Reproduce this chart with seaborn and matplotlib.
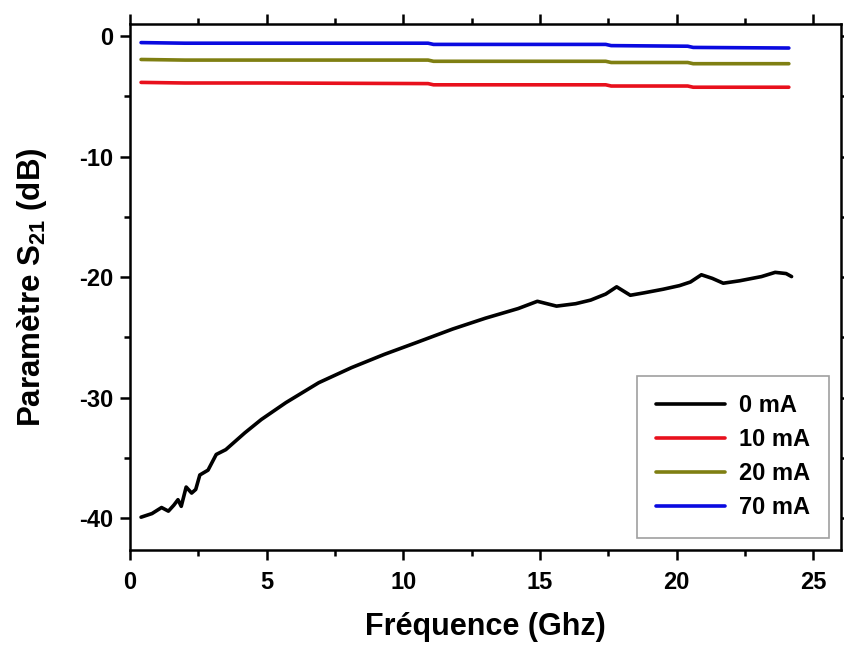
import numpy as np
import pandas as pd
import matplotlib
matplotlib.use("Agg")
import matplotlib.pyplot as plt
import seaborn as sns
from matplotlib.ticker import MultipleLocator

# ---- data ----
freq_0mA = [0.4, 0.8, 1.15, 1.4, 1.6, 1.75, 1.87, 2.05, 2.25, 2.4, 2.55, 2.85, 3.15,
            3.5, 4.2, 4.8, 5.7, 6.9, 8.1, 9.3, 10.5, 11.8, 13.0, 14.2, 14.9, 15.6,
            16.3, 16.85, 17.4, 17.8, 18.3, 18.8, 19.5, 20.1, 20.5, 20.9, 21.3, 21.7,
            22.3, 23.1, 23.6, 24.0, 24.2]
s21_0mA = [-39.9, -39.6, -39.1, -39.4, -38.9, -38.45, -39.0, -37.4, -37.9, -37.6,
           -36.4, -36.0, -34.7, -34.3, -32.9, -31.8, -30.4, -28.75, -27.5, -26.4,
           -25.4, -24.3, -23.4, -22.6, -22.0, -22.4, -22.2, -21.9, -21.4, -20.8,
           -21.5, -21.3, -21.0, -20.7, -20.4, -19.8, -20.1, -20.5, -20.3, -19.95,
           -19.6, -19.7, -19.95]

freq_flat = [0.4, 2.0, 5.0, 10.9, 11.1, 15.0, 17.4, 17.6, 20.4, 20.6, 24.1]
s21_10mA = [-3.85, -3.9, -3.9, -3.95, -4.05, -4.05, -4.05, -4.15, -4.15, -4.25, -4.25]
s21_20mA = [-1.95, -2.0, -2.0, -2.0, -2.1, -2.1, -2.1, -2.2, -2.2, -2.3, -2.3]
s21_70mA = [-0.55, -0.6, -0.6, -0.6, -0.7, -0.7, -0.7, -0.8, -0.85, -0.95, -1.0]

labels = ["0 mA", "10 mA", "20 mA", "70 mA"]
colors = ["#000000", "#e8101c", "#7f7f12", "#0a0ae0"]

x_ticks = [0, 5, 10, 15, 20, 25]
y_ticks = [0, -10, -20, -30, -40]

frames = [
    pd.DataFrame({"f": freq_0mA, "s": s21_0mA, "I": labels[0]}),
    pd.DataFrame({"f": freq_flat, "s": s21_10mA, "I": labels[1]}),
    pd.DataFrame({"f": freq_flat, "s": s21_20mA, "I": labels[2]}),
    pd.DataFrame({"f": freq_flat, "s": s21_70mA, "I": labels[3]}),
]
df = pd.concat(frames, ignore_index=True)

sns.set_theme(style="ticks")
plt.rcParams["font.family"] = ["Liberation Sans", "DejaVu Sans"]
plt.rcParams["font.weight"] = "bold"
plt.rcParams["axes.unicode_minus"] = False
plt.rcParams["text.color"] = "black"
plt.rcParams["axes.labelcolor"] = "black"
plt.rcParams["xtick.color"] = "black"
plt.rcParams["ytick.color"] = "black"
plt.rcParams["mathtext.fontset"] = "custom"
plt.rcParams["mathtext.rm"] = "Liberation Sans:bold"
plt.rcParams["mathtext.bf"] = "Liberation Sans:bold"
plt.rcParams["mathtext.default"] = "bf"

fig = plt.figure(figsize=(8.45, 6.46), dpi=100)
ax = fig.add_axes([0.154, 0.149, 0.841, 0.814])

sns.lineplot(data=df, x="f", y="s", hue="I", palette=dict(zip(labels, colors)),
             hue_order=labels, ax=ax, linewidth=2.6, sort=False, estimator=None)

ax.set_xlim(0, 26)
ax.set_ylim(-42.6, 1.0)
ax.set_xticks(x_ticks)
ax.set_yticks(y_ticks)
ax.xaxis.set_minor_locator(MultipleLocator(2.5))
ax.yaxis.set_minor_locator(MultipleLocator(5))
ax.tick_params(which="both", direction="out", top=True, right=True,
               labeltop=False, labelright=False, width=1.8, colors="black")
ax.tick_params(which="major", length=7, labelsize=17)
ax.tick_params(axis="x", which="major", pad=8)
ax.tick_params(axis="y", which="major", pad=5)
ax.tick_params(which="minor", length=4.5)
for lab in ax.get_xticklabels() + ax.get_yticklabels():
    lab.set_fontweight("bold")
for sp in ax.spines.values():
    sp.set_linewidth(1.8)
    sp.set_color("black")

ax.set_xlabel("Fréquence (Ghz)", fontsize=22, fontweight="bold", labelpad=13)
ax.set_ylabel(r"Paramètre S$_{21}$ (dB)", fontsize=22.5, fontweight="bold", labelpad=22)

leg = ax.legend(loc="lower right", fontsize=17, handlelength=2.9, frameon=True,
                fancybox=False, edgecolor="#888888", borderpad=0.8,
                handletextpad=0.6, labelspacing=0.46,
                bbox_to_anchor=(1.0, 0.0))
leg.get_frame().set_linewidth(1.2)
for t in leg.get_texts():
    t.set_fontweight("bold")
for h in leg.get_lines():
    h.set_linewidth(2.6)

fig.savefig("out.png", dpi=100)
